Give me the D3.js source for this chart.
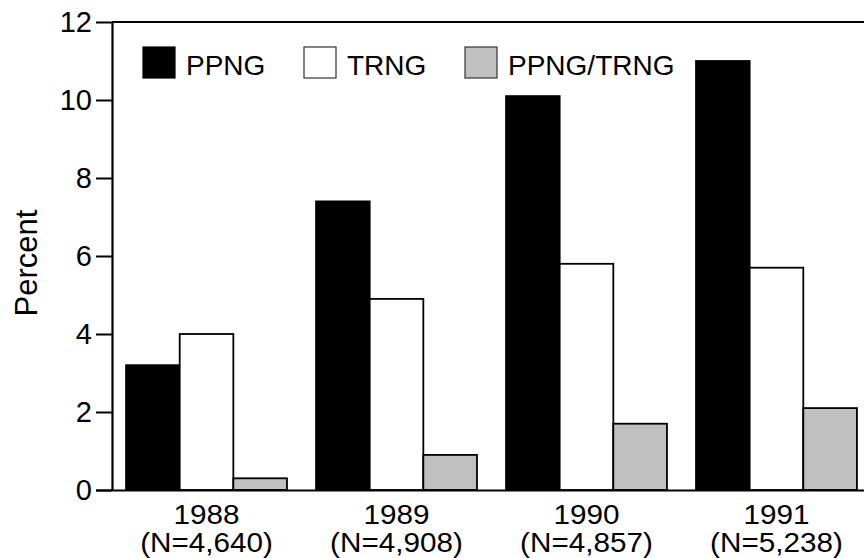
<!DOCTYPE html>
<html>
<head>
<meta charset="utf-8">
<script src="https://cdn.jsdelivr.net/npm/d3@7"></script>
<style>
  body { margin: 0; background: #fff; }
  svg { display: block; font-family: Arial, "Liberation Sans", sans-serif; }
</style>
</head>
<body>
<div id="chart"></div>
<script>
// data
const years = ["1988", "1989", "1990", "1991"];
const counts = ["N=4,640", "N=4,908", "N=4,857", "N=5,238"];
const seriesNames = ["PPNG", "TRNG", "PPNG/TRNG"];
const ppng = [3.2, 7.4, 10.1, 11.0];
const trng = [4.0, 4.9, 5.8, 5.7];
const both = [0.3, 0.9, 1.7, 2.1];
const yTicks = [0, 2, 4, 6, 8, 10, 12];

const fills = ["#000", "#fff", "#c0c0c0"];
const seriesValues = [ppng, trng, both];

const width = 864, height = 558;
const margin = { top: 22, left: 112, bottom: 68 };
const plotRight = 871; // frame runs past the window edge in the reference

const svg = d3.select("#chart").append("svg")
    .attr("width", width)
    .attr("height", height);

const x0 = d3.scaleBand()
    .domain(years)
    .range([margin.left, plotRight])
    .paddingInner(0.153)
    .paddingOuter(0.074);

const x1 = d3.scaleBand()
    .domain(seriesNames)
    .range([0, x0.bandwidth()]);

const y = d3.scaleLinear()
    .domain([0, 12])
    .range([height - margin.bottom, margin.top]);

// bars
const groups = svg.append("g")
    .selectAll("g")
    .data(years)
    .join("g")
    .attr("transform", d => `translate(${x0(d)},0)`);

groups.selectAll("rect")
    .data((d, i) => seriesNames.map((s, j) => ({ s, j, v: seriesValues[j][i] })))
    .join("rect")
    .attr("x", d => x1(d.s))
    .attr("y", d => y(d.v))
    .attr("width", x1.bandwidth())
    .attr("height", d => y(0) - y(d.v))
    .attr("fill", d => fills[d.j])
    .attr("stroke", "#000")
    .attr("stroke-width", 1.8);

// top frame line
svg.append("line")
    .attr("x1", margin.left).attr("x2", width)
    .attr("y1", y(12)).attr("y2", y(12))
    .attr("stroke", "#000").attr("stroke-width", 2.2);

// y axis
const yAxis = svg.append("g")
    .attr("transform", `translate(${margin.left},0)`)
    .call(d3.axisLeft(y).tickValues(yTicks).tickSize(16).tickSizeOuter(0).tickPadding(4));
yAxis.select(".domain").attr("stroke-width", 2.2);
yAxis.selectAll(".tick line").attr("stroke-width", 2);
yAxis.selectAll(".tick text")
    .attr("font-size", 29)
    .attr("font-family", "Arial, 'Liberation Sans', sans-serif")
    .attr("fill", "#000");

// x axis (no tick marks)
const xAxis = svg.append("g")
    .attr("transform", `translate(0,${y(0)})`)
    .call(d3.axisBottom(x0).tickSize(0).tickSizeOuter(0).tickFormat(""));
xAxis.select(".domain").attr("d", `M${margin.left - 16},0.5H${width}`).attr("stroke-width", 2.2);

// two-line category labels; glyphs in the reference are a little wider than tall
const xLabels = svg.append("g")
    .selectAll("g")
    .data(years)
    .join("g")
    .attr("transform", d => `translate(${x0(d) + x0.bandwidth() / 2},0) scale(1.06,1)`);
xLabels.append("text")
    .attr("text-anchor", "middle")
    .attr("font-size", 28)
    .attr("fill", "#000")
    .attr("y", 524)
    .text(d => d);
xLabels.append("text")
    .attr("text-anchor", "middle")
    .attr("font-size", 28)
    .attr("fill", "#000")
    .attr("y", 552)
    .text((d, i) => `(${counts[i]})`);

// y title
svg.append("text")
    .attr("transform", `translate(37,${(y(0) + y(12)) / 2 + 7}) rotate(-90)`)
    .attr("text-anchor", "middle")
    .attr("font-size", 31)
    .attr("fill", "#000")
    .text("Percent");

// legend
const legendX = [143, 304, 465];
const legend = svg.append("g")
    .selectAll("g")
    .data(seriesNames)
    .join("g")
    .attr("transform", (d, i) => `translate(${legendX[i]},47)`);
legend.append("rect")
    .attr("width", 32)
    .attr("height", 31)
    .attr("fill", (d, i) => fills[i])
    .attr("stroke", (d, i) => i === 0 ? "#000" : "#333")
    .attr("stroke-width", 1.2);
legend.append("text")
    .attr("x", 43)
    .attr("y", 28)
    .attr("font-size", 28)
    .attr("fill", "#000")
    .text(d => d);
</script>
</body>
</html>
